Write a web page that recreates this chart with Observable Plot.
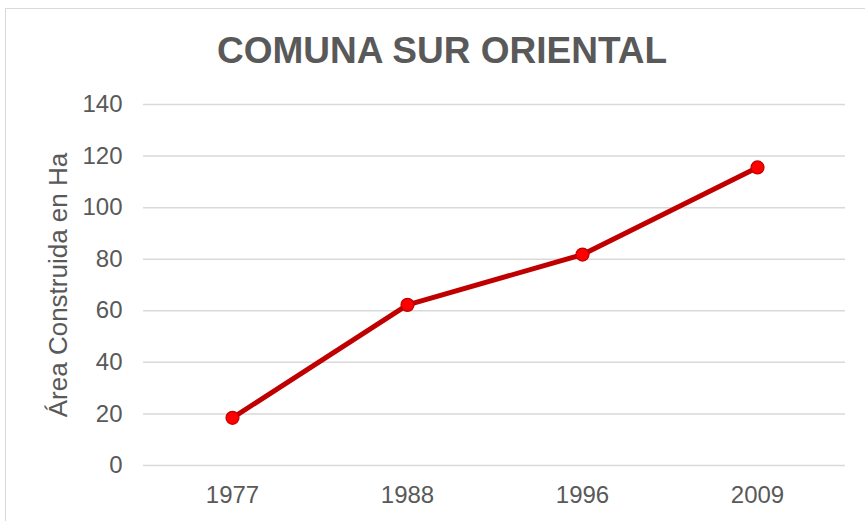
<!DOCTYPE html>
<html>
<head>
<meta charset="utf-8">
<script src="https://cdn.jsdelivr.net/npm/d3@7"></script>
<script src="https://cdn.jsdelivr.net/npm/@observablehq/plot@0.6"></script>
<style>
  html, body { margin: 0; padding: 0; background: #fff; }
  #wrap { position: relative; width: 865px; height: 521px; overflow: hidden; font-family: "Liberation Sans", Arial, sans-serif; }
  #frame { position: absolute; left: 5px; top: 8px; width: 880px; height: 540px; border: 1px solid #d9d9d9; box-sizing: border-box; }
  #title { position: absolute; left: 0; top: 29px; width: 884px; text-align: center; font-size: 37px; font-weight: bold; color: #595959; line-height: 44px; }
  #chart { position: absolute; left: 0; top: 0; }
</style>
</head>
<body>
<div id="wrap">
  <div id="frame"></div>
  <div id="title">COMUNA SUR ORIENTAL</div>
  <div id="chart"></div>
</div>
<script>
const years = ["1977", "1988", "1996", "2009"];
const area = [18.5, 62.3, 81.8, 115.6];
const yTicks = [0, 20, 40, 60, 80, 100, 120, 140];
const yLabel = "Área Construida en Ha";

const data = years.map((y, i) => ({year: y, value: area[i]}));

const chart = Plot.plot({
  width: 865,
  height: 521,
  marginLeft: 143,
  marginRight: 20,
  marginTop: 104,
  marginBottom: 56,
  style: {fontFamily: "Liberation Sans, Arial, sans-serif", fontSize: "24px", color: "#595959", background: "transparent", overflow: "visible"},
  x: {type: "point", domain: years, padding: 0.5, label: null},
  y: {domain: [0, 140], ticks: yTicks, label: null},
  marks: [
    Plot.gridY(yTicks, {stroke: "#d9d9d9", strokeOpacity: 1, strokeWidth: 1.5}),
    Plot.axisX({tickSize: 0, tickPadding: 20, fontSize: 24, fill: "#595959", label: null}),
    Plot.axisY({ticks: yTicks, tickSize: 0, tickPadding: 21, fontSize: 24, fill: "#595959", label: null}),
    Plot.line(data, {x: "year", y: "value", stroke: "#c00000", strokeWidth: 5, strokeLinejoin: "round"}),
    Plot.dot(data, {x: "year", y: "value", r: 6.5, fill: "#ff0000", stroke: "#c00000", strokeWidth: 1.2}),
    Plot.text([yLabel], {frameAnchor: "left", dx: -85, rotate: -90, textAnchor: "middle", fontSize: 26, fill: "#595959"})
  ]
});
document.getElementById("chart").appendChild(chart);
</script>
</body>
</html>
